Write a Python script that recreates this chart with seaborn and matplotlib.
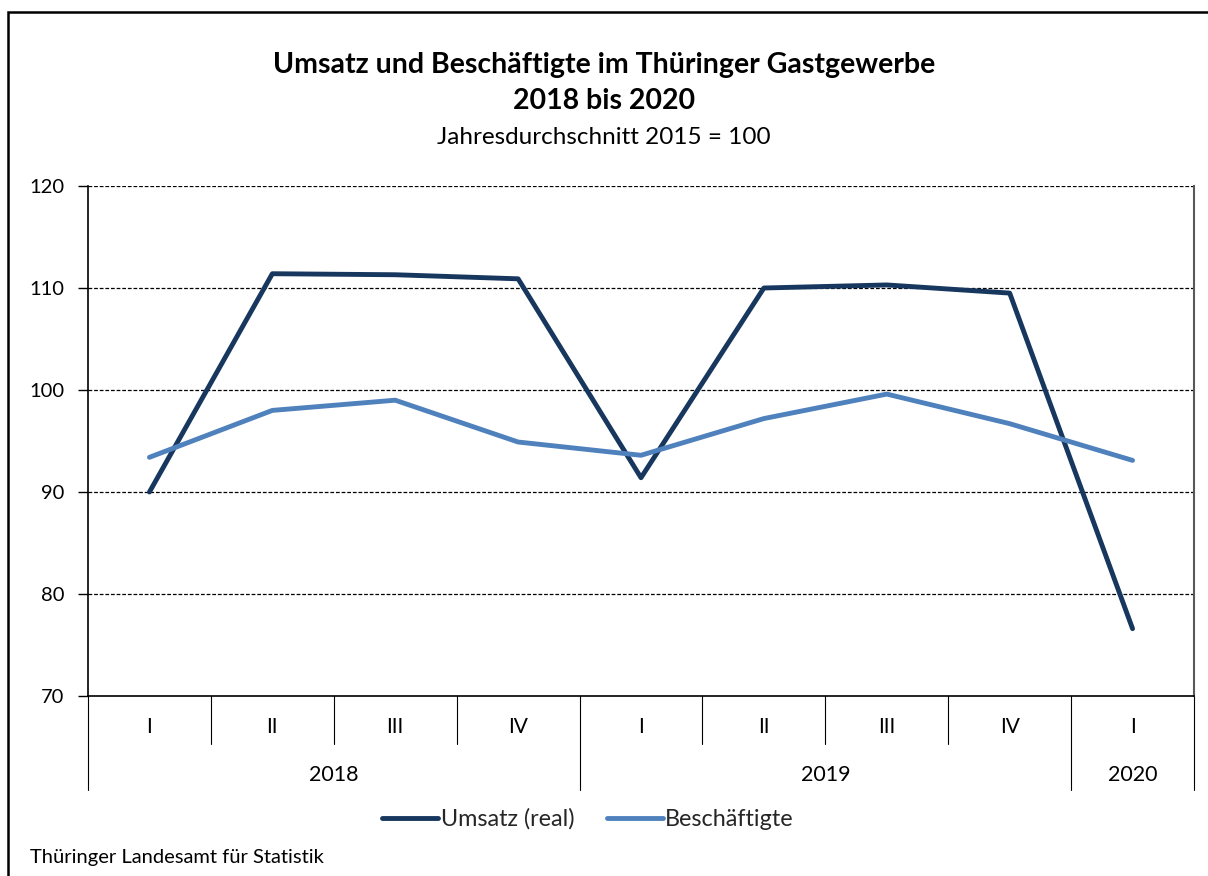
import seaborn as sns
import pandas as pd
import matplotlib.pyplot as plt
from matplotlib.patches import Rectangle
import matplotlib.transforms as mtransforms

# values (index 2015 = 100)
quarters = ["I", "II", "III", "IV", "I", "II", "III", "IV", "I"]
years = ["2018", "2019", "2020"]
year_spans = [(0, 3), (4, 7), (8, 8)]
umsatz = [90.0, 111.4, 111.3, 110.9, 91.4, 110.0, 110.3, 109.5, 76.6]
beschaeftigte = [93.4, 98.0, 99.0, 94.9, 93.6, 97.2, 99.6, 96.7, 93.1]

sns.set_theme(style="white")
plt.rcParams["font.family"] = ["Lato", "DejaVu Sans"]

df = pd.DataFrame({
    "pos": list(range(len(quarters))) * 2,
    "wert": umsatz + beschaeftigte,
    "reihe": ["Umsatz (real)"] * len(umsatz) + ["Beschäftigte"] * len(beschaeftigte),
})

W, H = 1208, 876
fig = plt.figure(figsize=(W / 100, H / 100), dpi=100)
ax = fig.add_axes([88 / W, 1 - 696 / H, (1194 - 88) / W, (696 - 186) / H])

sns.lineplot(data=df, x="pos", y="wert", hue="reihe", ax=ax,
             palette={"Umsatz (real)": "#17375E", "Beschäftigte": "#4F81BD"},
             linewidth=3.5, legend=False, zorder=3)

ax.set_xlim(-0.5, len(quarters) - 0.5)
ax.set_ylim(70, 120)
ax.set_yticks(range(70, 121, 10))
ax.set_xticks([])
ax.set_xlabel("")
ax.set_ylabel("")
ax.tick_params(axis="y", left=True, length=7, width=1, color="black",
               labelsize=14.5, pad=10, labelcolor="black")
for y in range(80, 121, 10):
    ax.axhline(y, color="black", linestyle=(0, (3, 1.5)), linewidth=0.9, zorder=1)
ax.spines["top"].set_visible(False)
ax.spines["left"].set_color("black")
ax.spines["bottom"].set_color("black")
ax.spines["right"].set_color("#595959")
ax.spines["right"].set_linewidth(1.5)
for s in ["left", "bottom"]:
    ax.spines[s].set_linewidth(1.2)

# category axis: quarters and years
trans = mtransforms.blended_transform_factory(ax.transData, ax.transAxes)
q_low = -(744 - 696) / (696 - 186)
y_low = -(790 - 696) / (696 - 186)
for i, q in enumerate(quarters):
    ax.text(i, -(727 - 696) / (696 - 186), q, transform=trans, ha="center",
            va="center", fontsize=15, color="black")
year_edges = [-0.5] + [e + 0.5 for _, e in year_spans]
for i in range(len(quarters) - 1):
    x = i + 0.5
    low = y_low if x in year_edges else q_low
    ax.plot([x, x], [0, low], transform=trans, color="black", linewidth=0.8,
            clip_on=False)
for x in [year_edges[0], year_edges[-1]]:
    ax.plot([x, x], [0, y_low], transform=trans, color="black", linewidth=0.8,
            clip_on=False)
for yr, (s, e) in zip(years, year_spans):
    ax.text((s + e) / 2, -(775 - 696) / (696 - 186), yr, transform=trans,
            ha="center", va="center", fontsize=15.5, color="black")

# titles
fig.text(604 / W, 1 - 65 / H, "Umsatz und Beschäftigte im Thüringer Gastgewerbe",
         ha="center", va="center", fontsize=20.5, fontweight="bold", color="black")
fig.text(604 / W, 1 - 101 / H, "2018 bis 2020", ha="center", va="center",
         fontsize=20.5, fontweight="bold", color="black")
fig.text(604 / W, 1 - 137 / H, "Jahresdurchschnitt 2015 = 100", ha="center",
         va="center", fontsize=17.5, color="black")

# legend
h1, = ax.plot([], [], color="#17375E", linewidth=3.5)
h2, = ax.plot([], [], color="#4F81BD", linewidth=3.5)
fig.legend([h1, h2], ["Umsatz (real)", "Beschäftigte"], loc="center",
           bbox_to_anchor=(588 / W, 1 - 819 / H), ncol=2, frameon=False,
           fontsize=16.8, handlelength=2.4, handletextpad=0.1, columnspacing=1.4)

fig.text(30 / W, 1 - 857 / H, "Thüringer Landesamt für Statistik", ha="left",
         va="center", fontsize=14.5, color="black")

# outer frame: only top and left edge are inside the picture
fig.patches.append(Rectangle((8 / W, -0.1), 1.2, 1.1 - 12 / H,
                             transform=fig.transFigure, fill=False,
                             edgecolor="black", linewidth=1.8))

fig.savefig("out.png", dpi=100, facecolor="white")
